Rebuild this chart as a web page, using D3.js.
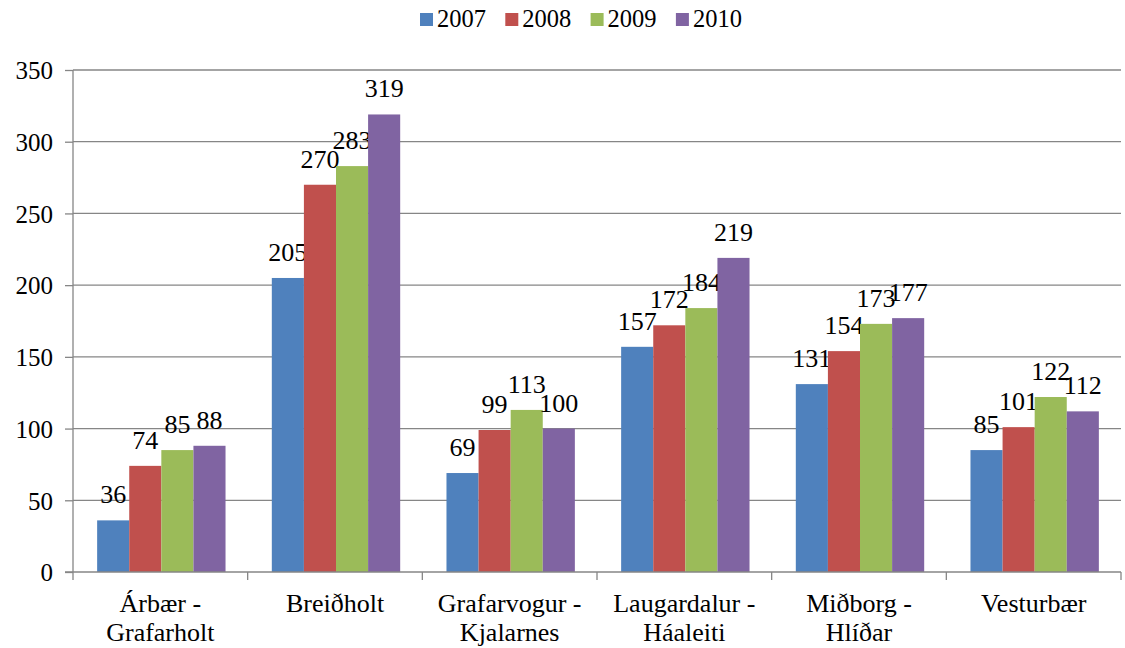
<!DOCTYPE html>
<html>
<head>
<meta charset="utf-8">
<script src="https://cdn.jsdelivr.net/npm/d3@7"></script>
<style>
    body { margin: 0; background: #fff; }
    svg text { font-family: "Liberation Serif", "Times New Roman", serif; fill: #000; }
</style>
</head>
<body>
<svg id="chart" width="1125" height="648"></svg>
<script>
    // districts (two-line labels) and yearly counts
    var categories = [["Árbær -", "Grafarholt"], ["Breiðholt"], ["Grafarvogur -", "Kjalarnes"],
        ["Laugardalur -", "Háaleiti"], ["Miðborg -", "Hlíðar"], ["Vesturbær"]];
    var years = ["2007", "2008", "2009", "2010"];
    var values2007 = [36, 205, 69, 157, 131, 85];
    var values2008 = [74, 270, 99, 172, 154, 101];
    var values2009 = [85, 283, 113, 184, 173, 122];
    var values2010 = [88, 319, 100, 219, 177, 112];
    var yTicks = [0, 50, 100, 150, 200, 250, 300, 350];
    var colors = ["#4F81BD", "#C0504D", "#9BBB59", "#8064A2"];

    (function () {
        var series = [values2007, values2008, values2009, values2010];
        var svg = d3.select("#chart");
        var plotL = 73, plotR = 1121, plotT = 70, plotB = 572;
        var fontSize = 26;

        var x0 = d3.scaleBand().domain(d3.range(categories.length)).range([plotL, plotR]);
        var gap = x0.bandwidth() * 0.265 / 2;
        var x1 = d3.scaleBand().domain(years).range([gap + 1, x0.bandwidth() - gap + 1]);
        var y = d3.scaleLinear().domain([0, 350]).range([plotB, plotT]);

        //--gridlines
        svg.append("g").selectAll("line").data(yTicks.filter(function (d) { return d > 0; }))
            .enter().append("line")
            .attr("x1", plotL).attr("x2", plotR)
            .attr("y1", function (d) { return y(d); }).attr("y2", function (d) { return y(d); })
            .attr("stroke", "#868686").attr("stroke-width", 1.3);

        //--bars
        var groups = svg.append("g").selectAll("g").data(series).enter().append("g")
            .attr("fill", function (d, i) { return colors[i]; });
        var cells = function (d, i) {
            return d.map(function (v, c) { return {v: v, c: c, year: years[i]}; });
        };
        groups.selectAll("rect").data(cells).enter().append("rect")
            .attr("x", function (d) { return x0(d.c) + x1(d.year); })
            .attr("width", x1.bandwidth())
            .attr("y", function (d) { return y(d.v); })
            .attr("height", function (d) { return y(0) - y(d.v); });

        //--value labels
        groups.selectAll("text").data(cells).enter().append("text")
            .attr("x", function (d) { return x0(d.c) + x1(d.year) + x1.bandwidth() / 2; })
            .attr("y", function (d) { return y(d.v) - 17; })
            .attr("text-anchor", "middle")
            .style("font-size", fontSize + "px")
            .text(function (d) { return d.v; });

        //--y axis
        var yAxis = svg.append("g").attr("transform", "translate(" + plotL + ",0)")
            .call(d3.axisLeft(y).tickValues(yTicks).tickSize(8).tickPadding(12));
        yAxis.attr("font-family", null);
        yAxis.select(".domain").attr("stroke", "#868686").attr("stroke-width", 1.3)
            .attr("d", "M0," + plotT + "V" + plotB);
        yAxis.selectAll(".tick line").attr("stroke", "#868686").attr("stroke-width", 1.3);
        yAxis.selectAll(".tick text").style("font-size", "25px").attr("dy", "0.35em");

        //--x axis
        var xAxis = svg.append("g");
        xAxis.append("line").attr("x1", plotL - 8).attr("x2", plotR)
            .attr("y1", plotB).attr("y2", plotB)
            .attr("stroke", "#868686").attr("stroke-width", 1.3);
        xAxis.selectAll("line.tick").data(d3.range(categories.length + 1)).enter().append("line")
            .attr("class", "tick")
            .attr("x1", function (d) { return plotL + d * x0.bandwidth(); })
            .attr("x2", function (d) { return plotL + d * x0.bandwidth(); })
            .attr("y1", plotB).attr("y2", plotB + 8)
            .attr("stroke", "#868686").attr("stroke-width", 1.3);
        var catText = xAxis.selectAll("text").data(categories).enter().append("text")
            .attr("text-anchor", "middle")
            .style("font-size", fontSize + "px")
            .attr("transform", function (d, i) {
                return "translate(" + (x0(i) + x0.bandwidth() / 2) + ",612)";
            });
        catText.selectAll("tspan").data(function (d) { return d; }).enter().append("tspan")
            .attr("x", 0).attr("y", function (d, i) { return i * 29; })
            .text(function (d) { return d; });

        //--legend
        var legend = svg.append("g").selectAll("g").data(years).enter().append("g")
            .attr("transform", function (d, i) { return "translate(" + (420 + i * 85.3) + ",13)"; });
        legend.append("rect").attr("width", 13).attr("height", 13)
            .attr("fill", function (d, i) { return colors[i]; });
        legend.append("text").attr("x", 17).attr("y", 13.5)
            .style("font-size", "24.5px")
            .text(function (d) { return d; });
    })();
</script>
</body>
</html>
